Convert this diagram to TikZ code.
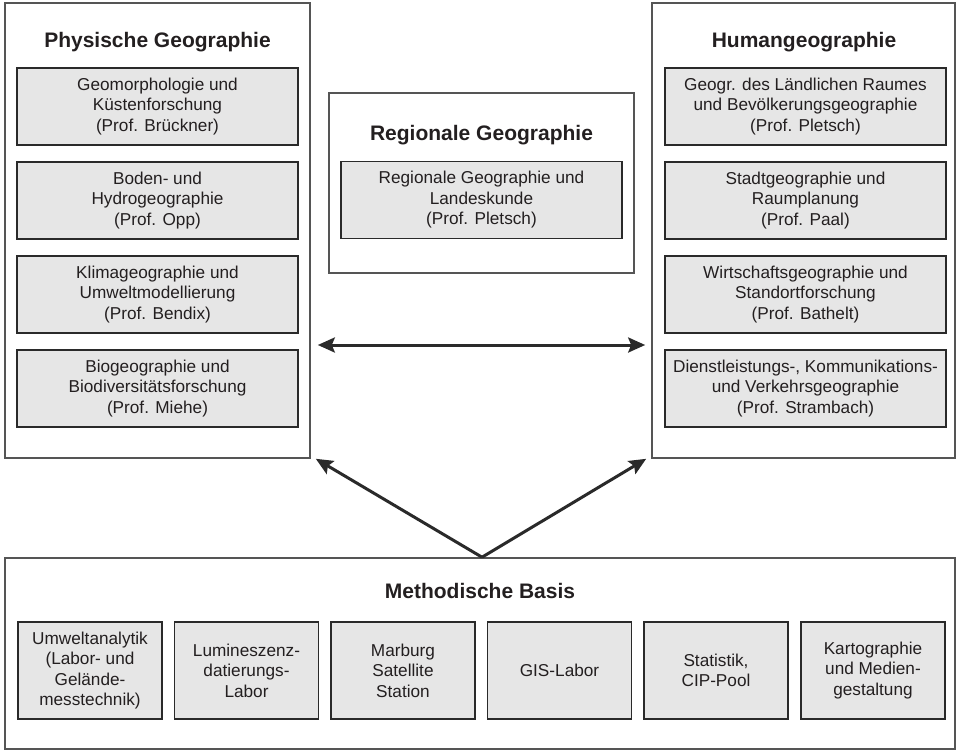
\documentclass[tikz,border=0pt]{standalone}
\usepackage{fontspec}
\setmainfont{Liberation Sans}
\usetikzlibrary{arrows.meta}

\definecolor{rahmen}{HTML}{555555}
\definecolor{kante}{HTML}{2A2A2A}
\definecolor{kasten}{HTML}{E6E6E6}
\definecolor{schrift}{HTML}{231F20}

\tikzset{
	bereich/.style={draw=rahmen, line width=1.6pt, rectangle, inner sep=0pt},
	fach/.style={draw=kante, fill=kasten, line width=1.6pt, rectangle, inner sep=0pt,
		minimum width=281pt, minimum height=77pt, align=center},
	labor/.style={fach, minimum width=144pt, minimum height=97pt},
	titel/.style={font=\fontsize{21}{25}\selectfont\bfseries},
	pfeil/.style={draw=kante, line width=3pt, -{Stealth[length=17pt,width=15pt,inset=3pt]}},
}

\begin{document}
\begin{tikzpicture}[x=1pt, y=-1pt, text=schrift, font=\fontsize{17.2}{20.5}\selectfont]
	\useasboundingbox (0,0) rectangle (959,752);
	% the three fields and the base
	\node[bereich, minimum width=305pt, minimum height=455pt] (phys) at (157.5,230.5) {};
	\node[bereich, minimum width=303pt, minimum height=455pt] (human) at (803.5,230.5) {};
	\node[bereich, minimum width=305pt, minimum height=180pt] (region) at (481.5,183) {};
	\node[bereich, minimum width=950pt, minimum height=191pt] (basis) at (480,653.5) {};
	\node[titel] (physT) at (157.5,42) {Physische Geographie};
	\node[titel] (humanT) at (804,42) {Humangeographie};
	\node[titel] (regionT) at (481.5,135) {Regionale Geographie};
	\node[titel] (basisT) at (480,591) {Methodische Basis};
	% Physische Geographie
	\node[fach] (geomorph) at (157.5,106.5) {Geomorphologie und\\Küstenforschung\\(Prof. Brückner)};
	\node[fach] (boden) at (157.5,200.5) {Boden- und\\Hydrogeographie\\(Prof. Opp)};
	\node[fach] (klima) at (157.5,294.5) {Klimageographie und\\Umweltmodellierung\\(Prof. Bendix)};
	\node[fach] (biogeo) at (157.5,388.5) {Biogeographie und\\Biodiversitätsforschung\\(Prof. Miehe)};
	% Regionale Geographie
	\node[fach] (landeskunde) at (481.5,200) {Regionale Geographie und\\Landeskunde\\(Prof. Pletsch)};
	% Humangeographie
	\node[fach] (laendlich) at (805.5,106.5) {Geogr. des Ländlichen Raumes\\und Bevölkerungsgeographie\\(Prof. Pletsch)};
	\node[fach] (stadt) at (805.5,200.5) {Stadtgeographie und\\Raumplanung\\(Prof. Paal)};
	\node[fach] (wirtschaft) at (805.5,294.5) {Wirtschaftsgeographie und\\Standortforschung\\(Prof. Bathelt)};
	\node[fach] (dienst) at (805.5,388.5) {Dienstleistungs-, Kommunikations-\\und Verkehrsgeographie\\(Prof. Strambach)};
	% Methodische Basis
	\node[labor] (umwelt) at (90,670.5) {Umweltanalytik\\(Labor- und\\Gelände-\\messtechnik)};
	\node[labor] (lumi) at (246.5,670.5) {Lumineszenz-\\datierungs-\\Labor};
	\node[labor] (satellit) at (403,670.5) {Marburg\\Satellite\\Station};
	\node[labor] (gis) at (559.5,670.5) {GIS-Labor};
	\node[labor] (statistik) at (716,670.5) {Statistik,\\CIP-Pool};
	\node[labor] (karto) at (873,670.5) {Kartographie\\und Medien-\\gestaltung};
	% arrows
	\draw[pfeil, {Stealth[length=17pt,width=15pt,inset=3pt]}-{Stealth[length=17pt,width=15pt,inset=3pt]}]
		([xshift=7pt,yshift=-114.5pt]phys.east) -- ([xshift=-6pt,yshift=-114.5pt]human.west);
	\draw[pfeil] ([xshift=2pt]basis.north) -- ([xshift=5pt]phys.south east);
	\draw[pfeil] ([xshift=2pt]basis.north) -- ([xshift=-5pt]human.south west);
\end{tikzpicture}
\end{document}
